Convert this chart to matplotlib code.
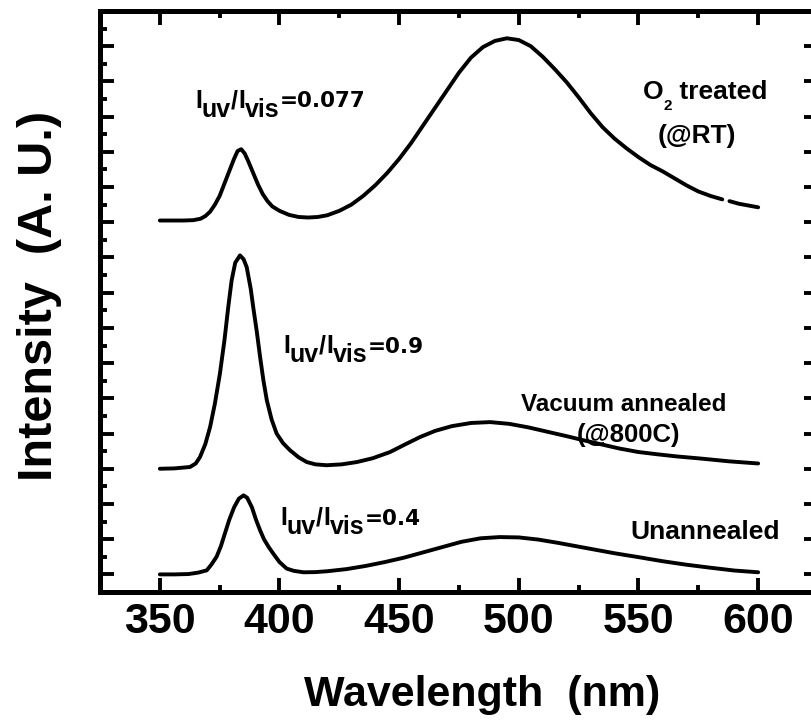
import numpy as np
import matplotlib
matplotlib.use("Agg")
import matplotlib.pyplot as plt
from matplotlib.ticker import MultipleLocator

plt.rcParams['font.family'] = ['Liberation Sans', 'DejaVu Sans']
plt.rcParams['font.weight'] = 'bold'

# ---- data ----
o2_x = [350, 355, 360, 364, 367, 369, 371, 373, 375, 377, 379, 381, 382.5, 384, 385.5, 387,
        389, 391, 393, 395, 397, 400, 404, 408, 412, 416, 420, 425, 430, 435, 440, 445, 450,
        455, 460, 465, 470, 475, 480, 485, 490, 495, 500, 505, 510, 515, 520, 525, 530, 535,
        540, 545, 550, 555, 560, 565, 570, 575, 580, 585]
o2_y = [20.1, 20.1, 20.1, 20.12, 20.2, 20.35, 20.6, 21.0, 21.5, 22.2, 22.9, 23.6, 24.05,
        24.15, 23.9, 23.45, 22.8, 22.15, 21.6, 21.2, 20.9, 20.65, 20.42, 20.3, 20.27, 20.3,
        20.4, 20.65, 21.0, 21.5, 22.1, 22.8, 23.6, 24.5, 25.5, 26.5, 27.5, 28.5, 29.35,
        29.95, 30.3, 30.45, 30.35, 30.0, 29.4, 28.7, 27.95, 27.1, 26.2, 25.4, 24.75, 24.2,
        23.7, 23.25, 22.9, 22.5, 22.1, 21.75, 21.5, 21.3]
o2_x2 = [588, 592, 596, 600]
o2_y2 = [21.2, 21.05, 20.95, 20.85]

vac_x = [350, 356, 362.6, 365, 366.8, 369, 371, 373, 375.1, 377, 378.6, 380, 381.5, 383.5,
         385, 386.3, 388, 389, 390.5, 391.9, 393.3, 394.7, 396.7, 398.8, 401.5, 404.4, 408,
         411.4, 415, 419.7, 426, 432.3, 439, 446.2, 452, 458.7, 465, 472, 480, 488, 496, 504,
         512, 520, 527, 534, 542, 550, 558, 566, 576, 588, 600]
vac_y = [6.0, 6.02, 6.1, 6.3, 6.67, 7.4, 8.37, 9.7, 11.4, 13.3, 15.2, 16.7, 17.7, 18.12,
         17.9, 17.45, 16.2, 15.2, 13.8, 12.34, 11.0, 9.89, 8.8, 8.0, 7.45, 7.05, 6.65, 6.38,
         6.25, 6.2, 6.25, 6.38, 6.6, 6.95, 7.35, 7.8, 8.15, 8.42, 8.6, 8.65, 8.55, 8.35,
         8.1, 7.85, 7.62, 7.4, 7.15, 6.95, 6.82, 6.7, 6.58, 6.42, 6.3]

un_x = [350, 356, 362, 366, 369.6, 371.5, 373.7, 375.5, 377.2, 379, 381, 383, 385, 386.5,
        388.5, 390.2, 391.9, 393.5, 395.5, 397.4, 400, 403, 406, 410, 415, 420, 428, 436,
        444, 452, 460, 468, 476, 484, 492, 500, 508, 516, 524, 532, 540, 550, 560, 570, 580,
        590, 600]
un_y = [0.0, 0.0, 0.02, 0.1, 0.23, 0.55, 1.0, 1.6, 2.33, 3.1, 3.8, 4.3, 4.49, 4.35, 3.8,
        3.1, 2.5, 2.0, 1.55, 1.18, 0.7, 0.33, 0.2, 0.12, 0.13, 0.18, 0.3, 0.48, 0.7, 0.95,
        1.25, 1.55, 1.85, 2.05, 2.12, 2.1, 1.98, 1.8, 1.6, 1.4, 1.2, 0.98, 0.75, 0.55, 0.38,
        0.22, 0.12]

xticks = [350, 400, 450, 500, 550, 600]

# ---- figure ----
fig = plt.figure(figsize=(8.12, 7.23), dpi=100)
ax = fig.add_axes([100/812, 1-592/723, 718/812, 581/723])

lw = 2.8
for xs, ys in [(o2_x, o2_y), (o2_x2, o2_y2), (vac_x, vac_y), (un_x, un_y)]:
    ax.plot(xs, ys, color='black', lw=lw, solid_capstyle='round', solid_joinstyle='round')

ax.set_xlim(325, 625)
ax.set_ylim(-1, 32)
ax.set_xticks(xticks)
ax.set_xticklabels([str(v) for v in xticks])
ax.xaxis.set_minor_locator(MultipleLocator(25))
ax.yaxis.set_major_locator(MultipleLocator(2))
ax.yaxis.set_minor_locator(MultipleLocator(1))
ax.tick_params(which='both', direction='in', top=True, right=True, width=2.8, color='black')
ax.tick_params(which='major', length=10)
ax.tick_params(which='minor', length=5)
ax.tick_params(axis='x', labelsize=31, pad=7)
ax.tick_params(axis='y', labelleft=False)
for lab in ax.get_xticklabels():
    lab.set_fontweight('bold')
for s in ax.spines.values():
    s.set_linewidth(3.6)

fig.text(482/812, 1-695/723, 'Wavelength  (nm)', fontsize=31, fontweight='bold',
         ha='center', va='center')
fig.text(40/812, 1-296/723, 'Intensity  (A. U.)', fontsize=35, fontweight='bold',
         ha='center', va='center', rotation=90)


def rich(x, y, pieces):
    prev = None
    for txt, size, dy, fam in pieces:
        kw = dict(textcoords='offset points', fontsize=size, fontweight='bold',
                  va='baseline', ha='left', xytext=(0, dy))
        if fam is not None:
            kw['family'] = fam
        if prev is None:
            t = ax.annotate(txt, xy=(x, y), xycoords='data', **kw)
        else:
            t = ax.annotate(txt, xy=(1, y), xycoords=(prev, 'data'), **kw)
        prev = t


def ratio(x, y, val):
    rich(x, y, [('I', 18, 0, None), ('uv', 18, -6, None), ('/', 18, 0, None),
                ('I', 18, 0, None), ('vis', 18, -6, None),
                ('=' + val, 15.5, 0.5, ['DejaVu Sans'])])


ratio(364.7, 26.48, '0.077')
ratio(401.5, 12.55, '0.9')
ratio(400.2, 2.79, '0.4')

rich(551.9, 27.03, [('O', 19, 0, None), ('2', 11, -8, None), (' treated', 19, 0, None)])
ax.text(574.5, 24.53, '(@RT)', fontsize=19, fontweight='bold', ha='center', va='baseline')
ax.text(544.0, 9.3, 'Vacuum annealed', fontsize=17.5, fontweight='bold', ha='center',
        va='baseline')
ax.text(546.0, 7.5, '(@800C)', fontsize=18.5, fontweight='bold', ha='center', va='baseline')
ax.text(578.0, 2.0, 'Unannealed', fontsize=19, fontweight='bold', ha='center', va='baseline')

fig.savefig('out.png', dpi=100)
